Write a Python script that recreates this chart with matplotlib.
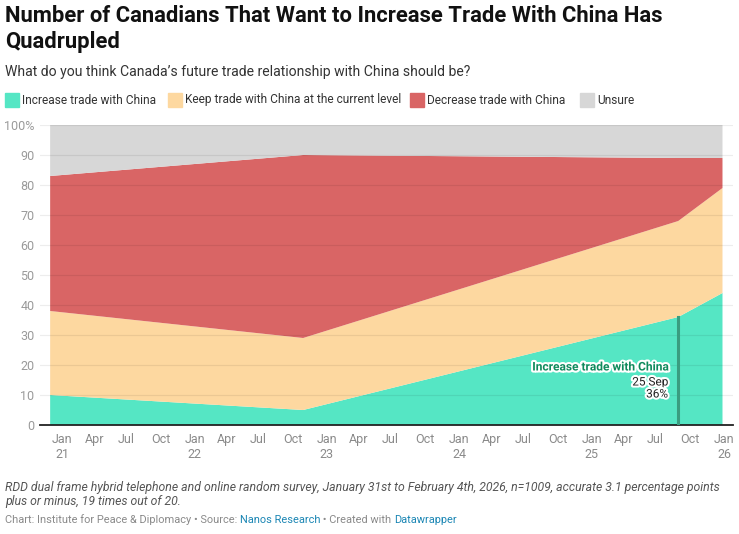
import matplotlib.pyplot as plt
import matplotlib.patheffects as pe
import numpy as np
from datetime import datetime

plt.rcParams['font.family'] = ['Roboto', 'DejaVu Sans']

# survey dates and shares (%)
dates = [datetime(2020, 12, 27), datetime(2022, 11, 25), datetime(2025, 9, 25), datetime(2026, 1, 25)]
increase = [10, 5, 36, 44]
keep = [28, 24, 32, 35]
decrease = [45, 61, 21, 10]
unsure = [17, 10, 11, 11]

series_names = ["Increase trade with China", "Keep trade with China at the current level",
                "Decrease trade with China", "Unsure"]
colors = ["#55e6c4", "#fdd8a0", "#d96565", "#d7d7d7"]

W, H = 739, 534
fig = plt.figure(figsize=(W / 100, H / 100), dpi=100)


def fx(x):
    return x / W


def fy(y):
    return 1 - y / H


ax = fig.add_axes([fx(40), fy(425), fx(733) - fx(40), fy(125) - fy(425)])
ax.stackplot(dates, increase, keep, decrease, unsure, colors=colors, linewidth=0, edgecolor="none")

ax.set_xlim(datetime(2020, 11, 29), datetime(2026, 2, 23))
ax.set_ylim(0, 100)

# gridlines drawn faintly over the areas
yt = np.arange(0, 101, 10)
ax.set_yticks(yt)
ax.set_yticklabels([("100%" if v == 100 else str(v)) for v in yt])
for v in yt[1:]:
    ax.axhline(v, color="black", alpha=0.07, lw=0.9, zorder=5)

ticks = []
labels = []
for yr in range(2021, 2027):
    for m, name in [(1, "Jan"), (4, "Apr"), (7, "Jul"), (10, "Oct")]:
        d = datetime(yr, m, 1)
        if d > datetime(2026, 1, 1):
            continue
        ticks.append(d)
        labels.append(name + ("\n" + str(yr)[2:] if m == 1 else ""))
ax.set_xticks(ticks)
ax.set_xticklabels(labels, ha="left", multialignment="center")

ax.tick_params(axis="both", length=0, labelsize=9, colors="#8a8a8a")
ax.tick_params(axis="y", pad=4, labelcolor="#9a9a9a")
ax.tick_params(axis="x", pad=6)
for s in ["top", "right", "left"]:
    ax.spines[s].set_visible(False)
ax.spines["bottom"].set_color("#222222")
ax.spines["bottom"].set_linewidth(1.3)
ax.spines["bottom"].set_zorder(6)

# annotation for the Sep 2025 point
ann_date = dates[2]
ax.plot([ann_date, ann_date], [0, increase[2]], color="#3a9d80", lw=2.2, zorder=7)
halo = [pe.withStroke(linewidth=3, foreground="white")]
fig.text(fx(668), fy(367), "Increase trade with China", ha="right", va="center",
         fontsize=8.6, fontweight="bold", color="#0e8a5c", path_effects=halo)
fig.text(fx(668), fy(382), "25 Sep", ha="right", va="center", fontsize=8.5,
         color="#222222", path_effects=halo)
fig.text(fx(668), fy(394), str(increase[2]) + "%", ha="right", va="center", fontsize=8.5,
         color="#222222", path_effects=halo)

# header
fig.text(fx(5), fy(16), "Number of Canadians That Want to Increase Trade With China Has",
         ha="left", va="center", fontsize=15.8, fontweight="bold", color="#111111")
fig.text(fx(5), fy(42), "Quadrupled", ha="left", va="center", fontsize=15.8,
         fontweight="bold", color="#111111")
fig.text(fx(5), fy(72), "What do you think Canada\u2019s future trade relationship with China should be?",
         ha="left", va="center", fontsize=10.1, color="#333333")

# legend
leg_x = [5, 168, 410, 580]
for x0, name, c in zip(leg_x, series_names, colors):
    fig.patches.append(plt.Rectangle((fx(x0), fy(107)), fx(14), 14 / H, transform=fig.transFigure,
                                     color=c, figure=fig))
    fig.text(fx(x0 + 17), fy(100), name, ha="left", va="center", fontsize=8.6, color="#333333")

# footer
fig.text(fx(5), fy(487), "RDD dual frame hybrid telephone and online random survey, January 31st to February 4th, "
         "2026, n=1009, accurate 3.1 percentage points", ha="left", va="center",
         fontsize=8.8, style="italic", color="#555555")
fig.text(fx(5), fy(502), "plus or minus, 19 times out of 20.", ha="left", va="center",
         fontsize=8.8, style="italic", color="#555555")

pieces = [("Chart: Institute for Peace & Diplomacy \u2022 Source: ", "#8a8a8a"),
          ("Nanos Research", "#1b86b4"),
          (" \u2022 Created with ", "#8a8a8a"),
          ("Datawrapper", "#1b86b4")]
renderer = fig.canvas.get_renderer()
x = fx(5)
for txt, c in pieces:
    t = fig.text(x, fy(520), txt, ha="left", va="center", fontsize=7.95, color=c)
    bb = t.get_window_extent(renderer=renderer)
    x += bb.width / W

fig.savefig("out.png", dpi=100)
